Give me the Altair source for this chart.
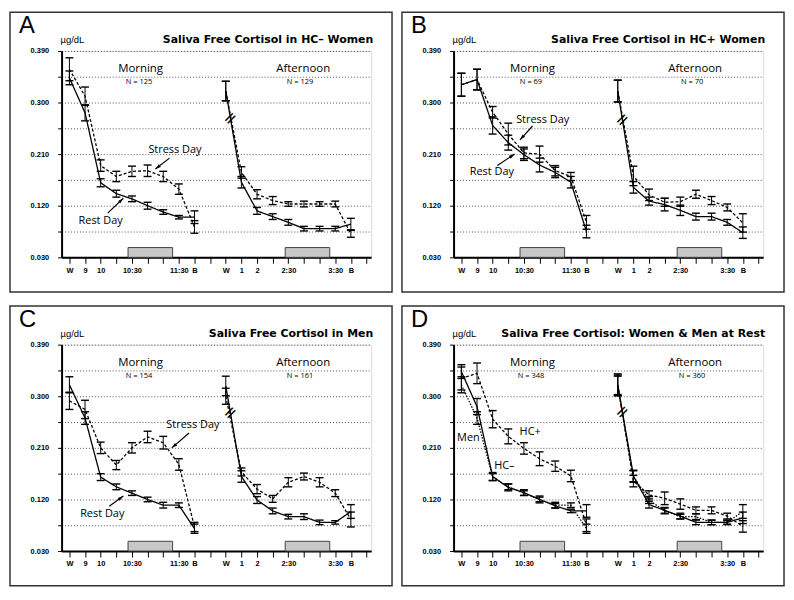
import json
import math
import altair as alt
import pandas as pd

# ---------------- data ----------------
X_AM = [0, 1, 2, 3, 4, 5, 6, 7, 8]
X_PM = [10, 11, 12, 13, 14, 15, 16, 17, 18]
TICK_LABELS = ['W', '9', '10', '', '10:30', '', '', '11:30', 'B', '',
               'W', '1', '2', '', '2:30', '', '', '3:30', 'B', '']
Y_TICKS = [0.030, 0.075, 0.120, 0.165, 0.210, 0.255, 0.300, 0.345, 0.390]
STRESS_WINDOWS = [(3.75, 6.6), (13.8, 16.65)]

# Panel A: HC- women (morning 9 values then afternoon 9 values)
A_REST_MEAN = [0.343, 0.282, 0.160, 0.141, 0.132, 0.120, 0.109, 0.100, 0.100,
               0.320, 0.161, 0.111, 0.101, 0.091, 0.080, 0.080, 0.080, 0.088]
A_REST_ERR = [0.012, 0.014, 0.007, 0.006, 0.005, 0.006, 0.004, 0.003, 0.011,
              0.017, 0.010, 0.006, 0.005, 0.005, 0.004, 0.004, 0.004, 0.010]
A_STRESS_MEAN = [0.358, 0.311, 0.190, 0.171, 0.180, 0.181, 0.171, 0.149, 0.083,
                 0.320, 0.178, 0.140, 0.129, 0.123, 0.123, 0.123, 0.123, 0.071]
A_STRESS_ERR = [0.020, 0.016, 0.010, 0.009, 0.009, 0.010, 0.009, 0.009, 0.011,
                0.017, 0.010, 0.008, 0.007, 0.004, 0.005, 0.004, 0.005, 0.006]

# Panel B: HC+ women
B_REST_MEAN = [0.331, 0.340, 0.260, 0.230, 0.209, 0.191, 0.178, 0.161, 0.075,
               0.320, 0.152, 0.128, 0.122, 0.112, 0.101, 0.101, 0.091, 0.073]
B_REST_ERR = [0.020, 0.018, 0.015, 0.013, 0.010, 0.012, 0.009, 0.010, 0.011,
              0.019, 0.010, 0.007, 0.011, 0.009, 0.006, 0.006, 0.005, 0.010]
B_STRESS_MEAN = [0.331, 0.340, 0.283, 0.245, 0.212, 0.210, 0.181, 0.171, 0.091,
                 0.320, 0.172, 0.139, 0.126, 0.127, 0.140, 0.129, 0.117, 0.090]
B_STRESS_ERR = [0.020, 0.018, 0.010, 0.019, 0.010, 0.014, 0.009, 0.007, 0.012,
                0.019, 0.017, 0.010, 0.007, 0.008, 0.007, 0.007, 0.006, 0.016]

# Panel C: men
C_REST_MEAN = [0.320, 0.262, 0.159, 0.142, 0.131, 0.120, 0.110, 0.110, 0.069,
               0.318, 0.160, 0.119, 0.100, 0.090, 0.090, 0.080, 0.080, 0.099]
C_REST_ERR = [0.014, 0.011, 0.006, 0.005, 0.004, 0.004, 0.005, 0.004, 0.008,
              0.017, 0.010, 0.006, 0.005, 0.004, 0.005, 0.004, 0.003, 0.012]
C_STRESS_MEAN = [0.292, 0.277, 0.210, 0.180, 0.210, 0.229, 0.219, 0.181, 0.072,
                 0.300, 0.168, 0.138, 0.121, 0.150, 0.160, 0.150, 0.131, 0.085]
C_STRESS_ERR = [0.015, 0.016, 0.010, 0.008, 0.009, 0.010, 0.011, 0.010, 0.008,
                0.014, 0.007, 0.008, 0.006, 0.008, 0.006, 0.008, 0.006, 0.013]

# ---------------- layout ----------------
W, H = 312, 208
X_MIN, X_MAX = -0.5, 19.3
Y_MIN, Y_MAX = 0.03, 0.39
BOX = dict(left=-52, right=W + 21, top=-39, bottom=H + 35)

XS = alt.Scale(domain=[X_MIN, X_MAX], nice=False, zero=False)
YS = alt.Scale(domain=[Y_MIN, Y_MAX], nice=False, zero=False)
XAX = alt.Axis(values=list(range(20)),
               labelExpr=json.dumps(TICK_LABELS) + "[datum.value]",
               grid=False, tickSize=6, tickWidth=1, tickColor='black',
               labelPadding=3, labelFont='Liberation Sans', labelFontWeight='bold',
               labelFontSize=7.5, labelColor='black', labelOverlap=False,
               labelFlush=False, domainWidth=2, domainColor='black', title=None)
YAX = alt.Axis(values=Y_TICKS,
               labelExpr="(round(datum.value*1000) % 90 == 30) ? format(datum.value, '.3f') : ''",
               grid=True, gridDash=[1, 2], gridColor='#555', gridWidth=1,
               tickSize=4, tickColor='black', labelPadding=9,
               labelFont='Liberation Sans', labelFontWeight='bold', labelFontSize=7.5,
               labelColor='black', labelOverlap=False, labelFlush=False,
               domainWidth=2, domainColor='black', title=None)

DASH = alt.Scale(domain=['Rest Day', 'Stress Day', 'HC–', 'HC+', 'Men'],
                 range=[[1, 0], [3, 2], [1, 0], [3, 2], [1.5, 1.5]])
ONE = pd.DataFrame({'k': [0]})
PX_X = W / (X_MAX - X_MIN)
PX_Y = H / (Y_MAX - Y_MIN)
ARROW_PATH = "M0,0L0.5,1.7L-0.5,1.7Z"


def build_df(series):
    rows = []
    for name, means, errs in series:
        for k, x in enumerate(X_AM + X_PM):
            rows.append(dict(x=x, mean=means[k], lo=means[k] - errs[k],
                             hi=means[k] + errs[k], series=name,
                             seg=name + ('-am' if k < 9 else '-pm')))
    return pd.DataFrame(rows)


def panel(letter, title, series, labels, arrows):
    df = build_df(series)
    xe = alt.X('x:Q', scale=XS, axis=XAX)
    layers = []
    # frame
    layers.append(alt.Chart(ONE).mark_rect(fillOpacity=0, stroke='#333', strokeWidth=1.5).encode(
        x=alt.value(BOX['left']), x2=alt.value(BOX['right']),
        y=alt.value(BOX['top']), y2=alt.value(BOX['bottom'])))
    # stressor windows
    win = pd.DataFrame({'x0': [a for a, b in STRESS_WINDOWS], 'x1': [b for a, b in STRESS_WINDOWS],
                        'y0': [0.030, 0.030], 'y1': [0.047, 0.047]})
    layers.append(alt.Chart(win).mark_rect(fill='#c8c8c8', stroke='#444', strokeWidth=1).encode(
        x=alt.X('x0:Q', scale=XS, axis=XAX), x2='x1:Q',
        y=alt.Y('y0:Q', scale=YS, axis=YAX), y2='y1:Q'))
    base = alt.Chart(df)
    layers.append(base.mark_line(color='black', strokeWidth=1.3).encode(
        x=xe, y=alt.Y('mean:Q', scale=YS, axis=YAX), detail='seg:N',
        strokeDash=alt.StrokeDash('series:N', scale=DASH, legend=None)))
    layers.append(base.mark_rule(color='black', strokeWidth=1).encode(
        x=xe, y=alt.Y('lo:Q', scale=YS, axis=YAX), y2='hi:Q'))
    layers.append(base.transform_fold(['lo', 'hi'], as_=['end', 'val']).mark_point(
        shape='M-1,0L1,0', size=64, filled=False, color='black', strokeWidth=1.4, opacity=1).encode(
        x=xe, y=alt.Y('val:Q', scale=YS, axis=YAX)))
    # axis break on afternoon waking segment
    rest_mean = series[0][1]
    bx = 10 + 0.3
    by = rest_mean[9] + 0.3 * (rest_mean[10] - rest_mean[9])
    layers.append(alt.Chart(pd.DataFrame({'x': [bx], 'y': [by]})).mark_text(
        text='=', fontSize=17, font='DejaVu Sans', color='black', angle=315).encode(
        x=alt.X('x:Q', scale=XS, axis=XAX), y=alt.Y('y:Q', scale=YS, axis=YAX)))
    # arrows
    if arrows:
        adf = pd.DataFrame([dict(x=a[0], y=a[1], x2=a[2], y2=a[3],
                                 ang=math.degrees(math.atan2((a[2] - a[0]) * PX_X,
                                                             (a[3] - a[1]) * PX_Y)) % 360)
                            for a in arrows])
        layers.append(alt.Chart(adf).mark_rule(color='black', strokeWidth=1.2).encode(
            x=alt.X('x:Q', scale=XS, axis=XAX), y=alt.Y('y:Q', scale=YS, axis=YAX),
            x2='x2:Q', y2='y2:Q'))
        layers.append(alt.Chart(adf).mark_point(shape=ARROW_PATH, size=45, filled=True,
                                                color='black', opacity=1).encode(
            x=alt.X('x2:Q', scale=XS, axis=XAX), y=alt.Y('y2:Q', scale=YS, axis=YAX),
            angle=alt.Angle('ang:Q', scale=None)))
    # annotation labels
    ldf = pd.DataFrame(labels, columns=['x', 'y', 'text', 'size'])
    for size in sorted(ldf['size'].unique()):
        sub = ldf[ldf['size'] == size]
        layers.append(alt.Chart(sub).mark_text(font='Open Sans', fontSize=float(size), color='black').encode(
            x=alt.X('x:Q', scale=XS, axis=XAX), y=alt.Y('y:Q', scale=YS, axis=YAX), text='text:N'))
    # fixed texts
    layers.append(alt.Chart(ONE).mark_text(text=letter, font='Liberation Sans', fontSize=24,
                                           align='left', baseline='alphabetic', color='black').encode(
        x=alt.value(-43), y=alt.value(-18)))
    layers.append(alt.Chart(ONE).mark_text(text='µg/dL', font='Liberation Sans', fontSize=9.5,
                                           align='left', baseline='alphabetic', color='black').encode(
        x=alt.value(-1), y=alt.value(-8)))
    layers.append(alt.Chart(ONE).mark_text(text=title, font='DejaVu Sans', fontSize=11,
                                           fontWeight='bold', align='right', baseline='alphabetic',
                                           color='black').encode(
        x=alt.value(W + 2), y=alt.value(-8)))
    return alt.layer(*layers).properties(width=W, height=H)


def period_labels(n_am, n_pm):
    return [(4.55, 0.358, 'Morning', 11.5), (4.45, 0.335, 'N = ' + n_am, 7.5),
            (14.95, 0.358, 'Afternoon', 11.5), (14.75, 0.335, 'N = ' + n_pm, 7.5)]


pA = panel('A', 'Saliva Free Cortisol in HC– Women',
           [('Rest Day', A_REST_MEAN, A_REST_ERR), ('Stress Day', A_STRESS_MEAN, A_STRESS_ERR)],
           period_labels('125', '129') + [(6.75, 0.217, 'Stress Day', 11), (2.0, 0.094, 'Rest Day', 11)],
           [(6.4, 0.203, 5.5, 0.184), (2.45, 0.107, 3.45, 0.133)])
pB = panel('B', 'Saliva Free Cortisol in HC+ Women',
           [('Rest Day', B_REST_MEAN, B_REST_ERR), ('Stress Day', B_STRESS_MEAN, B_STRESS_ERR)],
           period_labels('69', '70') + [(5.2, 0.270, 'Stress Day', 11), (1.95, 0.178, 'Rest Day', 11)],
           [(4.55, 0.259, 3.75, 0.235), (2.3, 0.190, 3.4, 0.210)])
pC = panel('C', 'Saliva Free Cortisol in Men',
           [('Rest Day', C_REST_MEAN, C_REST_ERR), ('Stress Day', C_STRESS_MEAN, C_STRESS_ERR)],
           period_labels('154', '161') + [(7.9, 0.250, 'Stress Day', 11), (2.1, 0.094, 'Rest Day', 11)],
           [(7.65, 0.236, 6.55, 0.210), (2.55, 0.108, 3.45, 0.126)])
pD = panel('D', 'Saliva Free Cortisol: Women & Men at Rest',
           [('HC–', A_REST_MEAN, A_REST_ERR), ('HC+', B_REST_MEAN, B_REST_ERR),
            ('Men', C_REST_MEAN, C_REST_ERR)],
           period_labels('348', '360') + [(0.45, 0.228, 'Men', 11), (4.4, 0.237, 'HC+', 11),
                                          (2.75, 0.178, 'HC–', 11)],
           [])

chart = alt.vconcat(
    alt.hconcat(pA, pB, spacing=6),
    alt.hconcat(pC, pD, spacing=6),
    spacing=10,
).properties(padding=0).configure_view(stroke=None).configure(background='white')

chart.save("out.html", embed_options={"renderer": "svg", "actions": False})
